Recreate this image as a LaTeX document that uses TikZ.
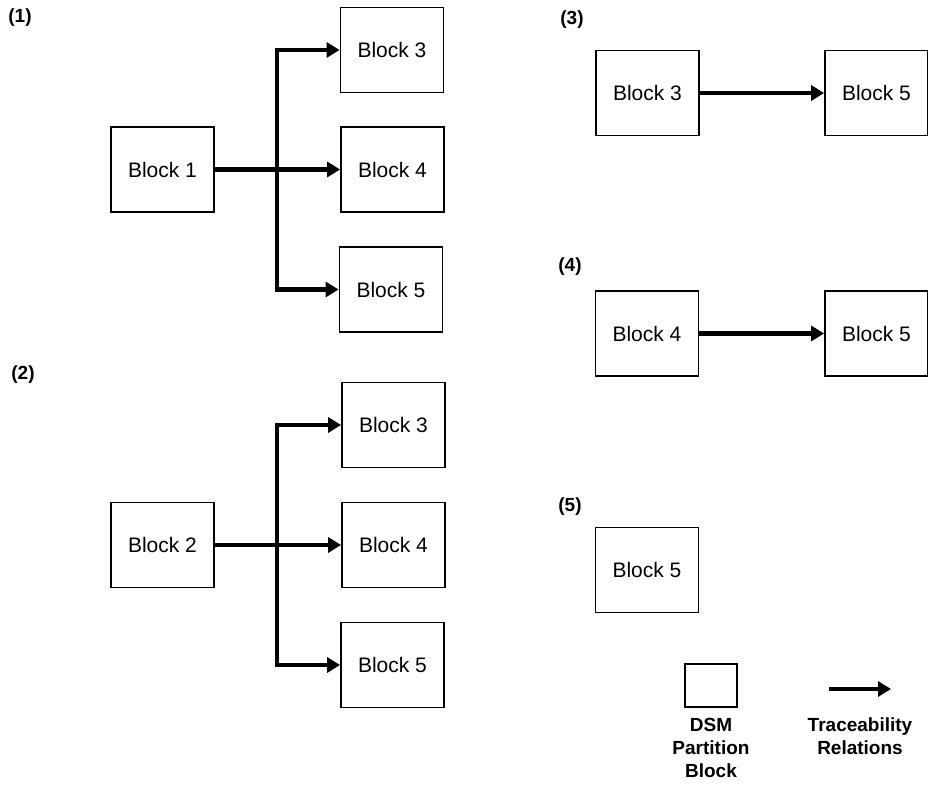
\documentclass[tikz,border=0pt]{standalone}
\usepackage{fontspec}
\setmainfont{Liberation Sans}
\usetikzlibrary{arrows.meta}

\tikzset{
  blk/.style={draw, line width=1.8pt, minimum width=103pt, minimum height=85pt, inner sep=0pt, font=\fontsize{21}{25}\selectfont},
  rel/.style={line width=4.5pt, -{Triangle[length=13pt,width=15pt]}},
  tag/.style={font=\fontsize{19}{23}\selectfont\bfseries}
}

\begin{document}
\begin{tikzpicture}[x=1pt,y=-1pt]
\useasboundingbox (0,0) rectangle (928,784);

% panel labels
\node[tag] (t1) at (20,18) {(1)};
\node[tag] (t2) at (23,375) {(2)};
\node[tag] (t3) at (572,20) {(3)};
\node[tag] (t4) at (570,267) {(4)};
\node[tag] (t5) at (570,507) {(5)};

% (1)
\node[blk] (b1) at (162.5,169.5) {Block 1};
\node[blk] (b13) at (392,50) {Block 3};
\node[blk] (b14) at (392.5,169.5) {Block 4};
\node[blk] (b15) at (391,289.5) {Block 5};
\coordinate (j1) at (277,169.5);
\draw[rel] (b1.east) -- (b14.west);
\draw[rel] (j1) |- (b13.west);
\draw[rel] (j1) |- (b15.west);

% (2)
\node[blk] (b2) at (162.5,545) {Block 2};
\node[blk] (b23) at (393.5,425) {Block 3};
\node[blk] (b24) at (393.5,545) {Block 4};
\node[blk] (b25) at (392.5,665) {Block 5};
\coordinate (j2) at (277,545);
\draw[rel] (b2.east) -- (b24.west);
\draw[rel] (j2) |- (b23.west);
\draw[rel] (j2) |- (b25.west);

% (3)
\node[blk] (b33) at (647.5,93) {Block 3};
\node[blk] (b35) at (876.5,93) {Block 5};
\draw[rel] (b33) -- (b35);

% (4)
\node[blk] (b44) at (647,333.5) {Block 4};
\node[blk] (b45) at (876.5,333.5) {Block 5};
\draw[rel] (b44) -- (b45);

% (5)
\node[blk] (b55) at (647,570) {Block 5};

% legend
\node[draw, line width=1.8pt, minimum width=52pt, minimum height=43pt] (lbox) at (711,685.5) {};
\node[tag, align=center] (ltxt1) at (711,748) {DSM\\Partition\\Block};
\coordinate (la) at (829,689);
\coordinate (lb) at (891,689);
\draw[rel] (la) -- (lb);
\node[tag, align=center] (ltxt2) at (860,736.5) {Traceability\\Relations};
\end{tikzpicture}
\end{document}
